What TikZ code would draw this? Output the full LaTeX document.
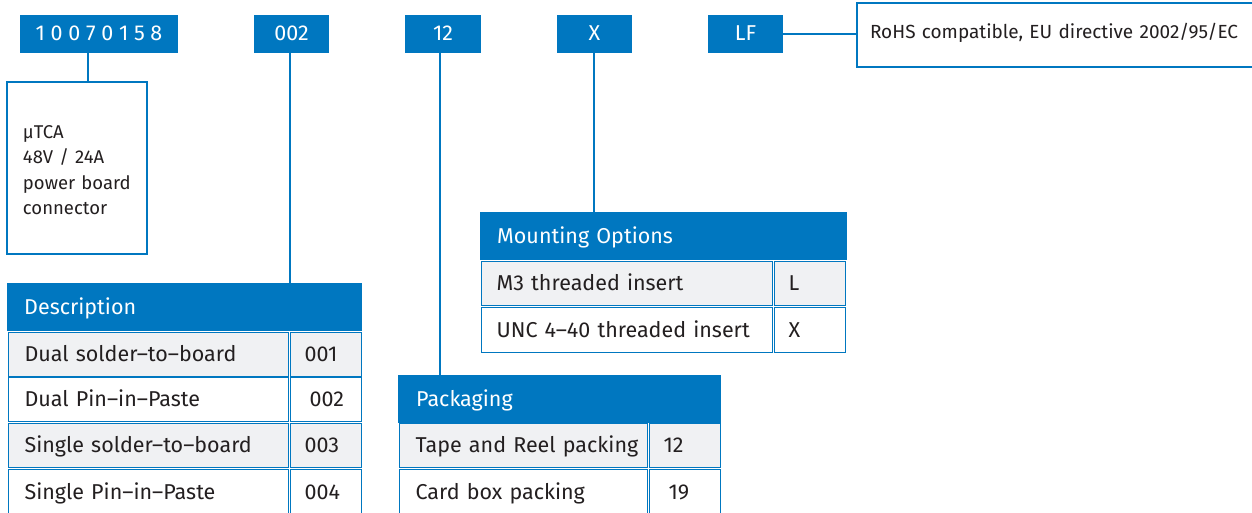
\documentclass[tikz,border=0pt]{standalone}
\usepackage{fontspec}
\setmainfont{Fira Sans}
\definecolor{brand}{HTML}{0077C0}
\definecolor{rowgray}{HTML}{F0F1F3}
\definecolor{ink}{HTML}{231F20}
\begin{document}
\begin{tikzpicture}[x=1pt,y=-1pt,
  topbox/.style={fill=brand, text=white, minimum height=38pt, inner sep=0pt,
    font=\fontsize{21.5}{24}\selectfont, text height=15pt, text depth=1pt},
  conn/.style={draw=brand, line width=2pt},
  hdr/.style={fill=brand, text=white, anchor=north west, minimum height=48pt,
    inner ysep=0pt, align=left, font=\fontsize{21.5}{24}\selectfont,
    text height=15pt, text depth=1pt},
  cell/.style={draw=brand, line width=1.2pt, anchor=north west, inner ysep=0pt,
    text=ink, align=left, font=\fontsize{21.5}{24}\selectfont,
    text height=15pt, text depth=1pt},
  code/.style={cell, minimum width=71pt, text width=43pt, inner xsep=14pt},
  grey/.style={fill=rowgray},
  plain/.style={fill=white}]
\useasboundingbox (0,0) rectangle (1252,513);

% part number boxes
\node[topbox, minimum width=158pt] (p1) at (99,34) {1 0 0 7 0 1 5 8};
\node[topbox, minimum width=75pt] (p2) at (291.5,34) {002};
\node[topbox, minimum width=76pt] (p3) at (443,34) {12};
\node[topbox, minimum width=75pt] (p4) at (594.5,34) {X};
\node[topbox, minimum width=75pt] (p5) at (745.5,34) {LF};

% RoHS box
\node[draw=brand, line width=2pt, fill=white, minimum width=398pt, minimum height=64pt,
  text width=372pt, inner xsep=13pt, inner ysep=0pt, align=left, text=ink,
  font=\fontsize{19}{21}\selectfont, text height=13pt, text depth=5pt]
  (rohs) at (1056,35) {RoHS compatible, EU directive 2002/95/EC};

% uTCA box
\node[draw=brand, line width=2pt, minimum width=140pt, minimum height=172pt,
  text width=108pt, inner xsep=16pt, align=left, text=ink,
  font=\fontsize{18.5}{25.3}\selectfont] (mt) at (77,168) {};
\node[text width=108pt, inner sep=0pt, align=left, text=ink,
  font=\fontsize{18.5}{25.3}\selectfont] (mttext) at (77,170)
  {µTCA\\48V / 24A\\power board\\connector};

% Description table
\node[hdr, minimum width=355pt, text width=321pt, inner xsep=17pt] (dh) at (7,283) {Description};
\node[cell, grey,  minimum width=280pt, minimum height=44pt, text width=248pt, inner xsep=16pt] (d1a) at (8,332) {Dual solder–to–board};
\node[code, grey,  minimum height=44pt] (d1b) at (290,332) {001};
\node[cell, plain, minimum width=280pt, minimum height=44pt, text width=248pt, inner xsep=16pt] (d2a) at (8,377) {Dual Pin–in–Paste};
\node[code, plain, minimum height=44pt] (d2b) at (290,377) {\kern5pt 002};
\node[cell, grey,  minimum width=280pt, minimum height=44pt, text width=248pt, inner xsep=16pt] (d3a) at (8,423) {Single solder–to–board};
\node[code, grey,  minimum height=44pt] (d3b) at (290,423) {003};
\node[cell, plain, minimum width=280pt, minimum height=46pt, text width=248pt, inner xsep=16pt] (d4a) at (8,469) {Single Pin–in–Paste};
\node[code, plain, minimum height=46pt] (d4b) at (290,469) {004};

% Packaging table
\node[hdr, minimum width=323pt, text width=287pt, inner xsep=18pt] (kh) at (398,375) {Packaging};
\node[cell, grey,  minimum width=248pt, minimum height=44pt, text width=216pt, inner xsep=16pt] (k1a) at (399,423) {\makebox[216pt][l]{Tape and Reel packing}};
\node[code, grey,  minimum height=44pt] (k1b) at (649,423) {12};
\node[cell, plain, minimum width=248pt, minimum height=46pt, text width=216pt, inner xsep=16pt] (k2a) at (399,469) {Card box packing};
\node[code, plain, minimum height=46pt] (k2b) at (649,469) {\kern5pt 19};

% Mounting options table
\node[hdr, minimum width=367pt, text width=333pt, inner xsep=17pt] (mh) at (480,212) {Mounting Options};
\node[cell, grey,  minimum width=291pt, minimum height=44pt, text width=261pt, inner xsep=15pt] (m1a) at (481,261) {M3 threaded insert};
\node[code, grey,  minimum height=44pt] (m1b) at (774,261) {L};
\node[cell, plain, minimum width=291pt, minimum height=45pt, text width=261pt, inner xsep=15pt] (m2a) at (481,307) {UNC 4–40 threaded insert};
\node[code, plain, minimum height=45pt] (m2b) at (774,307) {X};

% connectors
\draw[conn] ([xshift=-11pt]p1.south) -- ([xshift=-11pt]p1.south |- mt.north);
\draw[conn] ([xshift=-1.5pt]p2.south) -- ([xshift=-1.5pt]p2.south |- dh.north);
\draw[conn] ([xshift=-3.5pt]p3.south) -- ([xshift=-3.5pt]p3.south |- kh.north);
\draw[conn] ([xshift=-1pt]p4.south) -- ([xshift=-1pt]p4.south |- mh.north);
\draw[conn] (p5.east) -- (p5.east -| rohs.west);
\end{tikzpicture}
\end{document}
